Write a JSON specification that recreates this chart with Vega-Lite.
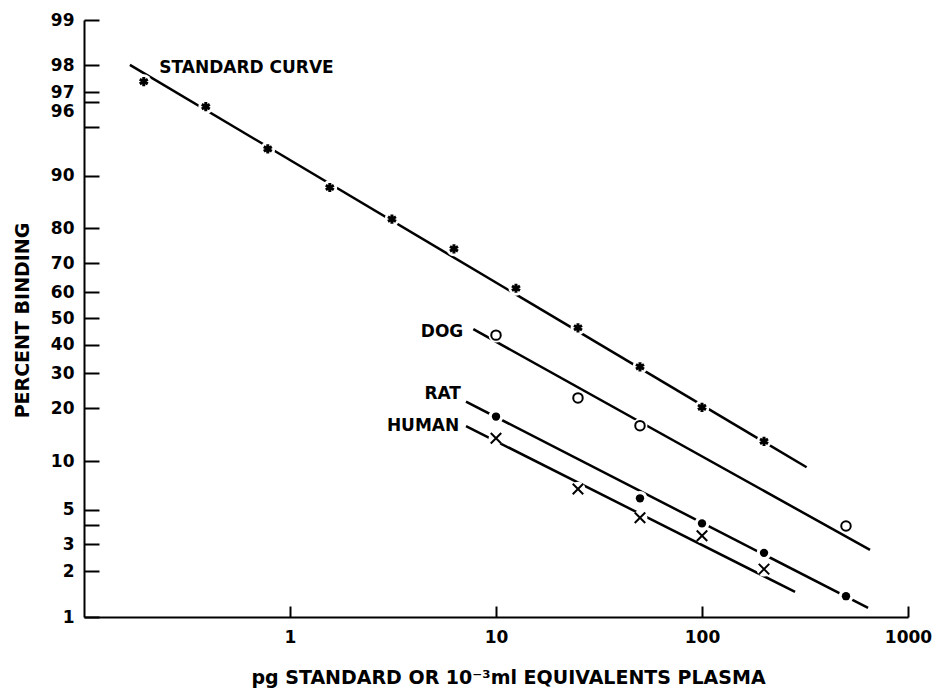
{
  "$schema": "https://vega.github.io/schema/vega-lite/v6.json",
  "width": 824,
  "height": 597,
  "autosize": {"type": "none"},
  "padding": {"left": 84, "top": 20, "right": 28, "bottom": 71},
  "background": "white",
  "config": {
    "view": {"stroke": null},
    "axis": {
      "grid": false,
      "domainColor": "black",
      "domainWidth": 2,
      "tickColor": "black",
      "tickWidth": 2,
      "labelColor": "black",
      "labelFont": "DejaVu Sans",
      "labelFontWeight": "bold",
      "labelFontSize": 17,
      "titleColor": "black",
      "titleFont": "DejaVu Sans",
      "titleFontWeight": "bold",
      "labelFlush": false,
      "labelOverlap": false
    }
  },
  "resolve": {"axis": {"y": "independent"}},
  "datasets": {
    "points": [
      {"series": "STANDARD", "x": 0.195, "pct": 97.4},
      {"series": "STANDARD", "x": 0.39, "pct": 96.25},
      {"series": "STANDARD", "x": 0.78, "pct": 93.1},
      {"series": "STANDARD", "x": 1.56, "pct": 88.0},
      {"series": "STANDARD", "x": 3.125, "pct": 82.0},
      {"series": "STANDARD", "x": 6.25, "pct": 74.4},
      {"series": "STANDARD", "x": 12.5, "pct": 61.3},
      {"series": "STANDARD", "x": 25, "pct": 46.4},
      {"series": "STANDARD", "x": 50, "pct": 32.3},
      {"series": "STANDARD", "x": 100, "pct": 20.3},
      {"series": "STANDARD", "x": 200, "pct": 13.3},
      {"series": "DOG", "x": 10, "pct": 43.6},
      {"series": "DOG", "x": 25, "pct": 22.8},
      {"series": "DOG", "x": 50, "pct": 16.2},
      {"series": "DOG", "x": 500, "pct": 3.94},
      {"series": "RAT", "x": 10, "pct": 18.2},
      {"series": "RAT", "x": 50, "pct": 5.98},
      {"series": "RAT", "x": 100, "pct": 4.1},
      {"series": "RAT", "x": 200, "pct": 2.68},
      {"series": "RAT", "x": 500, "pct": 1.39},
      {"series": "HUMAN", "x": 10, "pct": 13.8},
      {"series": "HUMAN", "x": 25, "pct": 6.78},
      {"series": "HUMAN", "x": 50, "pct": 4.47},
      {"series": "HUMAN", "x": 100, "pct": 3.44},
      {"series": "HUMAN", "x": 200, "pct": 2.08}
    ],
    "lines": [
      {"series": "STANDARD", "x": 0.167, "pct": 98.01},
      {"series": "STANDARD", "x": 322, "pct": 9.27},
      {"series": "DOG", "x": 7.76, "pct": 45.9},
      {"series": "DOG", "x": 654, "pct": 2.79},
      {"series": "RAT", "x": 7.15, "pct": 21.8},
      {"series": "RAT", "x": 640, "pct": 1.17},
      {"series": "HUMAN", "x": 7.15, "pct": 16.1},
      {"series": "HUMAN", "x": 283, "pct": 1.47}
    ],
    "labels": [
      {"text": "STANDARD CURVE", "x": 0.232, "pct": 97.7, "side": "left"},
      {"text": "DOG", "x": 6.94, "pct": 43.0, "side": "right"},
      {"text": "RAT", "x": 6.76, "pct": 22.4, "side": "right"},
      {"text": "HUMAN", "x": 6.63, "pct": 15.1, "side": "right"}
    ]
  },
  "encoding": {
    "x": {
      "field": "x",
      "type": "quantitative",
      "scale": {"type": "log", "domain": [0.1, 1000], "nice": false},
      "axis": {
        "values": [1, 10, 100, 1000],
        "format": "d",
        "tickSize": -11,
        "labelPadding": 23,
        "title": "pg STANDARD OR 10⁻³ml EQUIVALENTS PLASMA",
        "titleFontSize": 19,
        "titleX": 424,
        "titleY": 66,
        "titleBaseline": "alphabetic",
        "titleAnchor": "middle"
      }
    },
    "y": {
      "field": "pct",
      "type": "quantitative",
      "scale": {
        "type": "linear",
        "nice": false,
        "zero": false,
        "domain": [1, 1.5, 2, 3, 4, 5, 7, 10, 15, 20, 25, 30, 40, 50, 60, 70, 75, 80, 85, 90, 93, 95, 96, 96.5, 97, 98, 99],
        "range": [597, 570.3, 551.3, 524.2, 504.9, 489.7, 466.5, 441.1, 411.1, 388.4, 369.7, 353.4, 324.6, 298.3, 272.0, 243.2, 226.9, 208.2, 185.5, 155.5, 130.1, 106.9, 91.7, 81.7, 72.4, 45.3, 0]
      },
      "axis": null
    }
  },
  "layer": [
    {
      "data": {"name": "lines"},
      "mark": {"type": "line", "color": "black", "strokeWidth": 2.5},
      "encoding": {
        "detail": {"field": "series"},
        "y": {
          "field": "pct",
          "type": "quantitative",
          "scale": {
            "type": "linear",
            "nice": false,
            "zero": false,
            "domain": [1, 1.5, 2, 3, 4, 5, 7, 10, 15, 20, 25, 30, 40, 50, 60, 70, 75, 80, 85, 90, 93, 95, 96, 96.5, 97, 98, 99],
            "range": [597, 570.3, 551.3, 524.2, 504.9, 489.7, 466.5, 441.1, 411.1, 388.4, 369.7, 353.4, 324.6, 298.3, 272.0, 243.2, 226.9, 208.2, 185.5, 155.5, 130.1, 106.9, 91.7, 81.7, 72.4, 45.3, 0]
          },
          "axis": {
            "orient": "left",
            "values": [1, 2, 3, 4, 5, 10, 20, 30, 40, 50, 60, 70, 80, 90, 95, 96.5, 97, 98, 99],
            "labels": false,
            "tickSize": -15,
            "title": "PERCENT BINDING",
            "titleFontSize": 19,
            "titleX": -62,
            "titleY": 300,
            "titleAngle": -90,
            "titleBaseline": "middle",
            "titleAlign": "center"
          }
        }
      }
    },
    {
      "data": {"name": "points"},
      "mark": {"type": "point", "shape": "circle", "filled": true, "color": "white", "opacity": 1, "size": 220},
      "encoding": {
        "y": {
          "field": "pct",
          "type": "quantitative",
          "scale": {
            "type": "linear",
            "nice": false,
            "zero": false,
            "domain": [1, 1.5, 2, 3, 4, 5, 7, 10, 15, 20, 25, 30, 40, 50, 60, 70, 75, 80, 85, 90, 93, 95, 96, 96.5, 97, 98, 99],
            "range": [597, 570.3, 551.3, 524.2, 504.9, 489.7, 466.5, 441.1, 411.1, 388.4, 369.7, 353.4, 324.6, 298.3, 272.0, 243.2, 226.9, 208.2, 185.5, 155.5, 130.1, 106.9, 91.7, 81.7, 72.4, 45.3, 0]
          },
          "axis": {
            "orient": "left",
            "values": [1, 2, 3, 5, 10, 20, 30, 40, 50, 60, 70, 80, 90, 96, 97, 98, 99],
            "ticks": false,
            "tickSize": 0,
            "domain": false,
            "labelPadding": 10,
            "title": null
          }
        }
      }
    },
    {
      "data": {"name": "points"},
      "transform": [{"filter": "datum.series === 'STANDARD'"}],
      "mark": {"type": "point", "shape": "M0,-1L0,1M-0.87,-0.5L0.87,0.5M-0.87,0.5L0.87,-0.5", "filled": false, "stroke": "black", "strokeWidth": 3, "opacity": 1, "size": 85}
    },
    {
      "data": {"name": "points"},
      "transform": [{"filter": "datum.series === 'DOG'"}],
      "mark": {"type": "point", "shape": "circle", "filled": false, "fill": "white", "stroke": "black", "strokeWidth": 2, "opacity": 1, "size": 90}
    },
    {
      "data": {"name": "points"},
      "transform": [{"filter": "datum.series === 'RAT'"}],
      "mark": {"type": "point", "shape": "circle", "filled": true, "color": "black", "opacity": 1, "size": 70}
    },
    {
      "data": {"name": "points"},
      "transform": [{"filter": "datum.series === 'HUMAN'"}],
      "mark": {"type": "point", "shape": "M-1,-1L1,1M-1,1L1,-1", "filled": false, "stroke": "black", "strokeWidth": 2, "opacity": 1, "size": 110}
    },
    {
      "data": {"name": "labels"},
      "transform": [{"filter": "datum.side === 'left'"}],
      "mark": {"type": "text", "align": "left", "baseline": "alphabetic", "font": "DejaVu Sans", "fontWeight": "bold", "fontSize": 17, "color": "black"},
      "encoding": {"text": {"field": "text"}}
    },
    {
      "data": {"name": "labels"},
      "transform": [{"filter": "datum.side === 'right'"}],
      "mark": {"type": "text", "align": "right", "baseline": "alphabetic", "font": "DejaVu Sans", "fontWeight": "bold", "fontSize": 17, "color": "black"},
      "encoding": {"text": {"field": "text"}}
    }
  ]
}
